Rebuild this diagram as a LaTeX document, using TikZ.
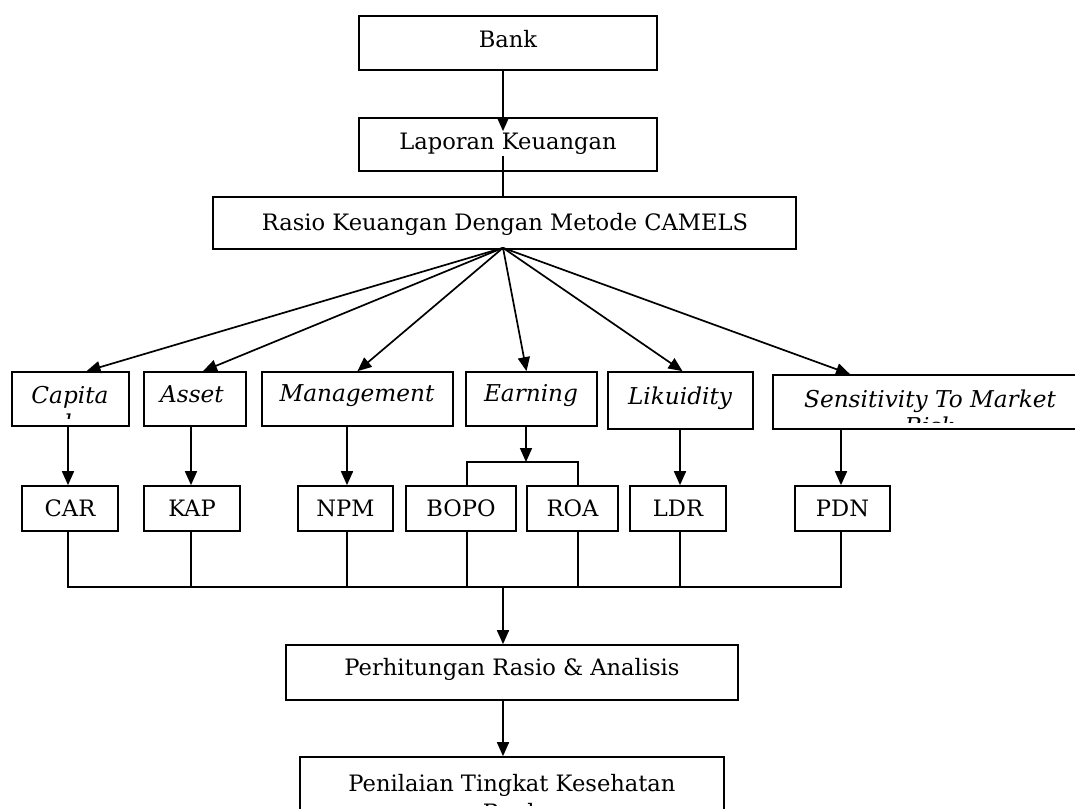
\documentclass[tikz,border=0pt]{standalone}
\usepackage{fontspec}
\setmainfont{DejaVu Serif}
\usetikzlibrary{arrows.meta,calc}
\begin{document}
\begin{tikzpicture}[x=1pt,y=-1pt,
  box/.style={draw,line width=1.7pt,inner sep=0pt,align=center},
  lbl/.style={font=\fontsize{22.6}{27}\selectfont,inner sep=0pt},
  ilbl/.style={font=\fontsize{23.2}{27}\selectfont\itshape,inner sep=0pt},
  arr/.style={line width=1.7pt,-{Triangle[length=14pt,width=12pt]}},
  ln/.style={line width=1.7pt}]
\clip (0,0) rectangle (1075,808);
\fill[white] (0,0) rectangle (1075,808);
% top chain
\node[box,minimum width=298pt,minimum height=54pt] (bank) at (508,43) {};
\node[lbl,anchor=base] (bankt) at (508,48) {Bank};
\node[box,minimum width=298pt,minimum height=53pt] (lap) at (508,144.5) {};
\node[lbl,anchor=base] (lapt) at (508,149) {Laporan Keuangan};
\node[box,minimum width=583pt,minimum height=52pt] (rasio) at (504.5,223) {};
\node[lbl,anchor=base] (rasiot) at (505,230) {Rasio Keuangan Dengan Metode CAMELS};
% second row
\node[box,minimum width=117pt,minimum height=54pt] (capita) at (70.5,399) {};
\node[box,minimum width=102pt,minimum height=54pt] (asset) at (195,399) {};
\node[ilbl,anchor=base] (assett) at (192,402) {Asset};
\node[box,minimum width=191pt,minimum height=54pt] (mgmt) at (357.5,399) {};
\node[ilbl,anchor=base] (mgmtt) at (357,401) {Management};
\node[box,minimum width=131pt,minimum height=54pt] (earn) at (531.5,399) {};
\node[ilbl,anchor=base] (earnt) at (531,401) {Earning};
\node[box,minimum width=145pt,minimum height=57pt] (liq) at (680.5,400.5) {};
\node[ilbl,anchor=base] (liqt) at (680,404) {Likuidity};
\node[box,minimum width=314pt,minimum height=54pt] (sens) at (930,402) {};
\begin{scope}
  \clip (capita.north west) rectangle (129,418);
  \node[ilbl,anchor=base] (capt) at (70,403) {Capita};
  \node[ilbl,anchor=base] (capt2) at (68,431) {l};
\end{scope}
\begin{scope}
  \clip (sens.north west) rectangle (1075,422);
  \node[ilbl,anchor=base] (senst) at (930,407) {Sensitivity To Market};
  \node[ilbl,anchor=base] (senst2) at (930,434) {Risk};
\end{scope}
% third row
\node[box,lbl,minimum width=96pt,minimum height=45pt] (car) at (70,508.5) {CAR};
\node[box,lbl,minimum width=96pt,minimum height=45pt] (kap) at (192,508.5) {KAP};
\node[box,lbl,minimum width=95pt,minimum height=45pt] (npm) at (345.5,508.5) {NPM};
\node[box,lbl,minimum width=110pt,minimum height=45pt] (bopo) at (461,508.5) {BOPO};
\node[box,lbl,minimum width=91pt,minimum height=45pt] (roa) at (572.5,508.5) {ROA};
\node[box,lbl,minimum width=96pt,minimum height=45pt] (ldr) at (678,508.5) {LDR};
\node[box,lbl,minimum width=95pt,minimum height=45pt] (pdn) at (842.5,508.5) {PDN};
% bottom
\node[box,minimum width=452pt,minimum height=55pt] (perh) at (512,672.5) {};
\node[lbl,anchor=base] (perht) at (512,675) {Perhitungan Rasio \& Analisis};
\node[box,minimum width=424pt,minimum height=60pt] (pen) at (512,787) {};
\begin{scope}
  \clip (pen.north west) rectangle (724,805);
  \node[lbl,anchor=base] (pent) at (512,791) {Penilaian Tingkat Kesehatan};
  \node[lbl,anchor=base] (pent2) at (512,820) {Bank};
\end{scope}
% connectors top
\draw[arr] ([xshift=-5pt]bank.south) -- ([xshift=-5pt,yshift=-14pt]lap.north);
\draw[ln] ([xshift=-5pt,yshift=16pt]lap.south) -- ([xshift=-5pt]lap.south |- rasio.north);
% fan
\coordinate (fan) at ([xshift=-1.5pt,yshift=2pt]rasio.south);
\draw[arr] (fan) -- ([xshift=16pt]capita.north);
\draw[arr] (fan) -- ([xshift=8pt]asset.north);
\draw[arr] (fan) -- (mgmt.north);
\draw[arr] (fan) -- ([xshift=-5pt]earn.north);
\draw[arr] (fan) -- ([xshift=2pt]liq.north);
\draw[arr] (fan) -- ([xshift=-80pt]sens.north);
% row2 -> row3
\draw[arr] ([xshift=-2pt]capita.south -| car.north) -- ([xshift=-2pt]car.north);
\draw[arr] ([xshift=-1pt]asset.south -| kap.north) -- ([xshift=-1pt]kap.north);
\draw[arr] ([xshift=1.5pt]mgmt.south -| npm.north) -- ([xshift=1.5pt]npm.north);
\draw[arr] ([xshift=-5.5pt]earn.south) -- ([xshift=-5.5pt]earn.south |- 0,462);
\draw[ln] ([xshift=6pt]bopo.north) -- ([xshift=6pt]bopo.north |- 0,462) -- ([xshift=5.5pt]roa.north |- 0,462) -- ([xshift=5.5pt]roa.north);
\draw[arr] ([xshift=2pt]liq.south -| ldr.north) -- ([xshift=2pt]ldr.north);
\draw[arr] ([xshift=-1.5pt]sens.south -| pdn.north) -- ([xshift=-1.5pt]pdn.north);
% bus
\coordinate (bus) at (503,587);
\draw[ln] ([xshift=-2pt]car.south) -- ([xshift=-2pt]car.south |- bus) -- ([xshift=-1.5pt]pdn.south |- bus) -- ([xshift=-1.5pt]pdn.south);
\draw[ln] ([xshift=-1pt]kap.south) -- ([xshift=-1pt]kap.south |- bus);
\draw[ln] ([xshift=1.5pt]npm.south) -- ([xshift=1.5pt]npm.south |- bus);
\draw[ln] ([xshift=6pt]bopo.south) -- ([xshift=6pt]bopo.south |- bus);
\draw[ln] ([xshift=5.5pt]roa.south) -- ([xshift=5.5pt]roa.south |- bus);
\draw[ln] ([xshift=2pt]ldr.south) -- ([xshift=2pt]ldr.south |- bus);
\draw[arr] (bus) -- (bus |- perh.north);
\draw[arr] (bus |- perh.south) -- (bus |- pen.north);
\end{tikzpicture}
\end{document}
